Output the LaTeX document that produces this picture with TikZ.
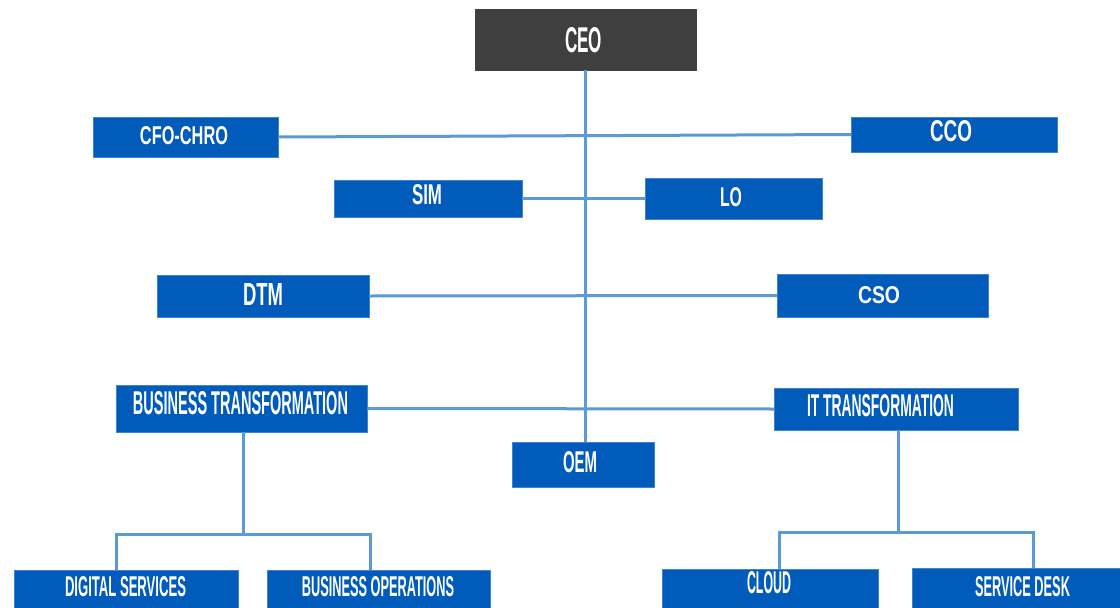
\documentclass[tikz,border=0pt]{standalone}
\usepackage{fontspec}
\setmainfont{Liberation Sans}
\usepackage{graphicx}
\definecolor{boxblue}{RGB}{0,91,187}
\definecolor{ceogray}{RGB}{63,63,63}
\definecolor{linkblue}{RGB}{91,155,213}
% caption squeezed to a given width and cap height
\newcommand{\tx}[3]{\resizebox{#1pt}{#2pt}{\bfseries #3}}
% \unit{name}{cx}{cy}{w}{h}{text}{text x}{text y}{text w}{text h}
\newcommand{\unit}[6]{%
  \node[unitbox, minimum width=#4pt, minimum height=#5pt] (#1) at (#2,#3) {};
  \unittext{#1}{#6}}
\newcommand{\unittext}[6]{%
  \node[unittext] (#1-t) at (#3,#4) {\tx{#5}{#6}{#2}};}

\begin{document}
\begin{tikzpicture}[x=1pt,y=-1pt,
  unitbox/.style={fill=boxblue, draw=boxblue!75!white, line width=0.5pt, inner sep=0pt},
  unittext/.style={inner sep=0pt, text=white},
  link/.style={draw=linkblue, line width=3pt}]
\clip (0,0) rectangle (1120,608);
\fill[white] (0,0) rectangle (1120,608);

% chief executive
\node[unitbox, fill=ceogray, draw=ceogray, minimum width=221pt, minimum height=61pt] (ceo) at (585.5,39.5) {};
\node[unittext] (ceo-t) at (583.5,40.5) {\tx{37}{25}{CEO}};

% direct reports
\unit{cfo}{185.5}{137}{185}{40}{CFO-CHRO}{184}{136}{88}{18}
\unit{cco}{954}{134.5}{206}{35}{CCO}{951}{131}{42}{21}
\unit{sim}{428}{198.5}{188}{37}{SIM}{427}{195}{30}{20}
\unit{lo}{733.5}{198.5}{177}{41}{LO}{731}{197}{22}{19}
\unit{dtm}{263}{296}{212}{42}{DTM}{263}{294}{40}{22}
\unit{cso}{882.5}{295.5}{211}{43}{CSO}{879}{295}{42}{17}
\unit{bt}{241.5}{408.5}{251}{47}{BUSINESS TRANSFORMATION}{240.5}{403.5}{215}{23}
\unit{it}{896}{409}{244}{42}{IT TRANSFORMATION}{880.5}{406}{147}{22}
\unit{oem}{583}{464.5}{142}{45}{OEM}{580}{462.5}{34}{21}

% second level teams
\unit{ds}{126}{592}{224}{44}{DIGITAL SERVICES}{125.5}{587}{121}{20}
\unit{bo}{378.5}{592}{223}{44}{BUSINESS OPERATIONS}{378}{587}{152}{20}
\unit{cloud}{770}{591}{216}{44}{CLOUD}{769}{583}{44}{22}
\unit{sd}{1022.5}{590}{221}{44}{SERVICE DESK}{1022.5}{587}{95}{20}

% reporting lines
\draw[link] (ceo.south) -- (ceo.south |- oem.north);
\draw[link] (cfo.east) -- (cco.west);
\draw[link] (sim.east) -- (lo.west);
\draw[link] (dtm.east) -- (cso.west);
\draw[link] (bt.east) -- (it.west);

% business transformation branch
\coordinate (btbus) at (243,534);
\coordinate (dsdrop) at (116,534);
\coordinate (bodrop) at (370,534);
\draw[link] (bt.south -| btbus) -- (btbus);
\draw[link] (ds.north -| dsdrop) -- (dsdrop) -- (bodrop) -- (bo.north -| bodrop);

% IT transformation branch
\coordinate (itbus) at (898,532);
\coordinate (cldrop) at (779,532);
\coordinate (sddrop) at (1033,532);
\draw[link] (it.south -| itbus) -- (itbus);
\draw[link] (cloud.north -| cldrop) -- (cldrop) -- (sddrop) -- (sd.north -| sddrop);
\end{tikzpicture}
\end{document}
